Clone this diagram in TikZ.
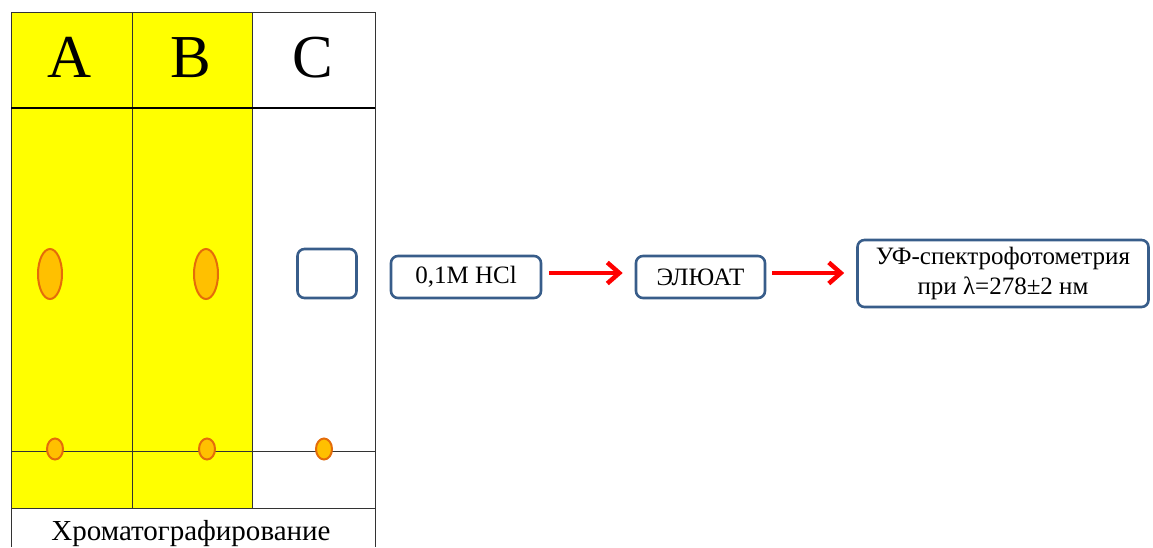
\documentclass[tikz,border=0pt]{standalone}
\usepackage{fontspec}
\setmainfont{Liberation Serif}
\usetikzlibrary{shapes.geometric,arrows.meta}
\definecolor{ylw}{HTML}{FFFF00}
\definecolor{spotfill}{HTML}{FFC000}
\definecolor{spotline}{HTML}{E46C0A}
\definecolor{boxline}{HTML}{385D8A}
\tikzset{
  grid/.style={draw=black!80, line width=0.8pt},
  spot/.style={ellipse, draw=spotline, fill=spotfill, line width=2pt, inner sep=0pt},
  flowbox/.style={draw=boxline, line width=2.6pt, rounded corners=7pt, align=center, font=\fontsize{25}{30}\selectfont, inner sep=0pt},
  header/.style={font=\fontsize{61}{61}\selectfont},
  flowarrow/.style={draw=red, line width=4pt, -{Straight Barb[length=12pt,width=21pt,line width=4.5pt]}}
}
\begin{document}
\begin{tikzpicture}[x=1pt,y=-1pt]
\useasboundingbox (0,0) rectangle (1153,547);
% yellow lanes
\fill[ylw] (11,12) rectangle (252,508);
% grid lines
\draw[grid] (11,12) -- (375,12);
\draw[grid] (11,12) -- (11,508);
\draw[grid] (132,12) -- (132,508);
\draw[grid] (252,12) -- (252,508);
\draw[grid] (375,12) -- (375,547);
\draw[grid] (11,451) -- (375,451);
\draw[grid] (11,508) -- (375,508);
\draw[grid] (11,508) -- (11,547);
\draw[black, line width=2.6pt] (11,108) -- (375,108);
% headers
\node[header, anchor=base] (hA) at (70,77) {A};
\node[header, anchor=base] (hB) at (191,77) {B};
\node[header, anchor=base] (hC) at (313,77) {C};
% spots
\node[spot, minimum width=24pt, minimum height=50pt] (sA) at (50,274) {};
\node[spot, minimum width=24pt, minimum height=50pt] (sB) at (206,274) {};
\node[draw=boxline, line width=2.6pt, rounded corners=7pt, minimum width=59pt, minimum height=49pt] (sC) at (327,273.5) {};
\node[spot, minimum width=16pt, minimum height=21pt] (oA) at (55,449) {};
\node[spot, minimum width=16pt, minimum height=21pt] (oB) at (207,449) {};
\node[spot, minimum width=16pt, minimum height=21pt] (oC) at (324,449) {};
% caption
\node[font=\fontsize{29}{31}\selectfont, anchor=base] (cap) at (191,540) {Хроматографирование};
% flow
\node[flowbox, minimum width=150pt, minimum height=42pt] (b1) at (466,277) {0,1M HCl};
\node[flowbox, minimum width=129pt, minimum height=42pt] (b2) at (700.5,277) {ЭЛЮАТ};
\node[flowbox, minimum width=291pt, minimum height=67pt] (b3) at (1003,273.5) {УФ-спектрофотометрия\\при λ=278±2 нм};
\draw[flowarrow, shorten <=7pt, shorten >=12pt] (b1.east |- 0,273) -- (b2.west |- 0,273);
\draw[flowarrow, shorten <=6pt, shorten >=12pt] (b2.east |- 0,273) -- (b3.west |- 0,273);
\end{tikzpicture}
\end{document}
